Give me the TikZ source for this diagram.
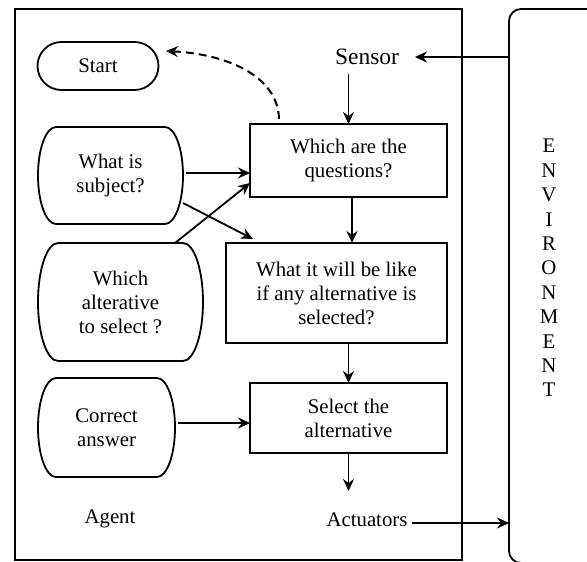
\documentclass[tikz,border=0pt]{standalone}
\usepackage{fontspec}
\setmainfont{Liberation Serif}
\usetikzlibrary{arrows.meta}
\newcommand\termbox[3]{\draw[shp] ([xshift=#2]#1.north west) -- ([xshift=-#2]#1.north east) arc[start angle=90,end angle=-90,x radius=#2,y radius=#3] -- ([xshift=#2]#1.south west) arc[start angle=270,end angle=90,x radius=#2,y radius=#3] -- cycle;}
\begin{document}
\begin{tikzpicture}[x=1pt,y=-1pt,
  font=\fontsize{20.8}{24}\selectfont,
  shp/.style={line width=1.8pt},
  arr/.style={-{Stealth[length=12pt,width=11pt,inset=4pt]}, line width=1.8pt},
  box/.style={draw, rectangle, inner sep=0pt, outer sep=0pt, align=center, line width=1.8pt},
  term/.style={rectangle, inner sep=0pt, outer sep=0pt, align=center}]
\clip (0,0) rectangle (587,562);
\fill[white] (0,0) rectangle (587,562);
% frames
\node[box, minimum width=447pt, minimum height=551pt] (agent) at (238.5,284.5) {};
\node[draw, rectangle, rounded corners=12pt, minimum width=140pt, minimum height=554pt, inner sep=0pt, outer sep=0pt, line width=1.8pt] (env) at (579,286) {};
\node[term, font=\fontsize{20.8}{24.4}\selectfont] (envlbl) at (549,268) {E\\N\\V\\I\\R\\O\\N\\M\\E\\N\\T};
% terminal shapes
\node[term, minimum width=121pt, minimum height=48pt] (start) at (98,66) {Start};
\termbox{start}{24pt}{24pt}
\node[term, minimum width=145pt, minimum height=97pt] (subj) at (110.5,175.5) {What is\\subject?};
\termbox{subj}{18pt}{48.5pt}
\node[term, minimum width=165pt, minimum height=118pt] (walt) at (120.5,302) {Which\\alterative\\to select ?};
\termbox{walt}{20pt}{59pt}
\node[term, minimum width=137pt, minimum height=99pt] (corr) at (106.5,427.5) {Correct\\answer};
\termbox{corr}{18pt}{49.5pt}
% process boxes
\node[box, minimum width=197pt, minimum height=73pt] (q) at (348.5,160.5) {Which are the\\questions?};
\node[box, minimum width=221pt, minimum height=100pt] (like) at (336.5,293) {What it will be like\\if any alternative is\\selected?};
\node[box, minimum width=197pt, minimum height=70pt] (sel) at (348.5,418) {Select the\\alternative};
% labels
\node[term] (sensor) at (367,57) {\fontsize{23.5}{27}\selectfont Sensor};
\node[term] (act) at (367,520) {Actuators};
\node[term] (agentlbl) at (110,519) {Agent};
\coordinate (actin) at (346,491);
% connectors
\draw[arr] (sensor.east -| env.west) -- ([xshift=16pt]sensor.east);
\draw[arr] ([yshift=-9pt]sensor.south -| q.north) -- (q.north);
\draw[arr] ([xshift=3.5pt]q.south) -- ([xshift=3.5pt]q.south |- like.north);
\draw[arr] (like.south -| sel.north) -- (sel.north);
\draw[arr] (sel.south) -- (sel.south |- actin);
\draw[arr] ([xshift=5pt,yshift=-3pt]act.east) -- ([yshift=-3pt]act.east -| env.west);
\draw[arr] ([xshift=3pt,yshift=2.5pt]subj.east) -- ([yshift=2.5pt]subj.east -| q.west);
\draw[arr] ([yshift=21pt]subj.south east) -- ([xshift=27pt,yshift=4pt]like.north west);
\draw[arr] ([xshift=54.5pt]walt.north) -- ([yshift=-22.5pt]q.west);
\draw[arr] ([xshift=3pt,yshift=4.5pt]corr.east) -- ([yshift=-5pt]sel.west);
\draw[arr, line width=2pt, dash pattern=on 8pt off 5pt] ([xshift=29pt,yshift=5pt]q.north west) .. controls +(-1,-44) and +(59,3) .. ([xshift=7.5pt,yshift=15pt]start.east);
\end{tikzpicture}
\end{document}
